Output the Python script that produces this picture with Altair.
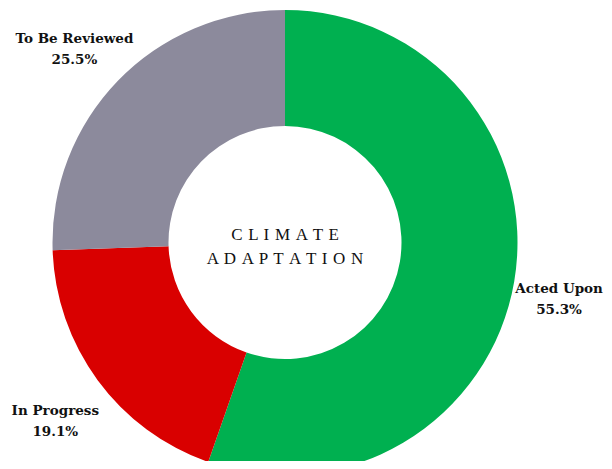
import altair as alt
import pandas as pd

categories = ["Acted Upon", "In Progress", "To Be Reviewed"]
values = [55.3, 19.1, 25.5]
colors = ["#00B050", "#D90000", "#8C8A9C"]
center_words = ["CLIMATE", "ADAPTATION"]

SP = " \u200a"
center_lines = [SP.join(list(w)) for w in center_words]

df = pd.DataFrame({
    "category": categories,
    "value": values,
    "order": list(range(len(categories))),
    "label": [f"{c}\n{v:.1f}%" for c, v in zip(categories, values)],
})

CX, CY = 277, 234.5
SERIF = "Liberation Serif"
BOLDSERIF = "DejaVu Serif"

base = alt.Chart(df).encode(
    theta=alt.Theta("value:Q", stack=True),
    order=alt.Order("order:Q"),
)

arcs = base.mark_arc(outerRadius=232.5, innerRadius=116.5).encode(
    color=alt.Color("category:N", scale=alt.Scale(domain=categories, range=colors), legend=None),
    x=alt.value(CX), y=alt.value(CY),
)

def label_layer(cat, r):
    return base.mark_text(
        radius=r, font=BOLDSERIF, fontSize=13.5, fontWeight="bold",
        color="#111111", lineBreak="\n", lineHeight=21, align="center", baseline="middle",
    ).encode(
        text="label:N",
        x=alt.value(CX), y=alt.value(CY),
        opacity=alt.condition(alt.datum.category == cat, alt.value(1), alt.value(0)),
    )

lab1 = label_layer("Acted Upon", 278)
lab2 = label_layer("In Progress", 285)
lab3 = label_layer("To Be Reviewed", 293)

c1 = alt.Chart(pd.DataFrame({"t": [center_lines[0]]})).mark_text(
    font=SERIF, fontSize=17, color="#111111", align="center", baseline="alphabetic",
).encode(text="t:N", x=alt.value(CX), y=alt.value(232))

c2 = alt.Chart(pd.DataFrame({"t": [center_lines[1]]})).mark_text(
    font=SERIF, fontSize=17, color="#111111", align="center", baseline="alphabetic",
).encode(text="t:N", x=alt.value(CX), y=alt.value(256))

chart = alt.layer(arcs, lab1, lab2, lab3, c1, c2).properties(
    width=596, height=453, autosize="none", padding=0
).configure_view(stroke=None)

chart.save("out.html", embed_options={"renderer": "svg", "actions": False})
